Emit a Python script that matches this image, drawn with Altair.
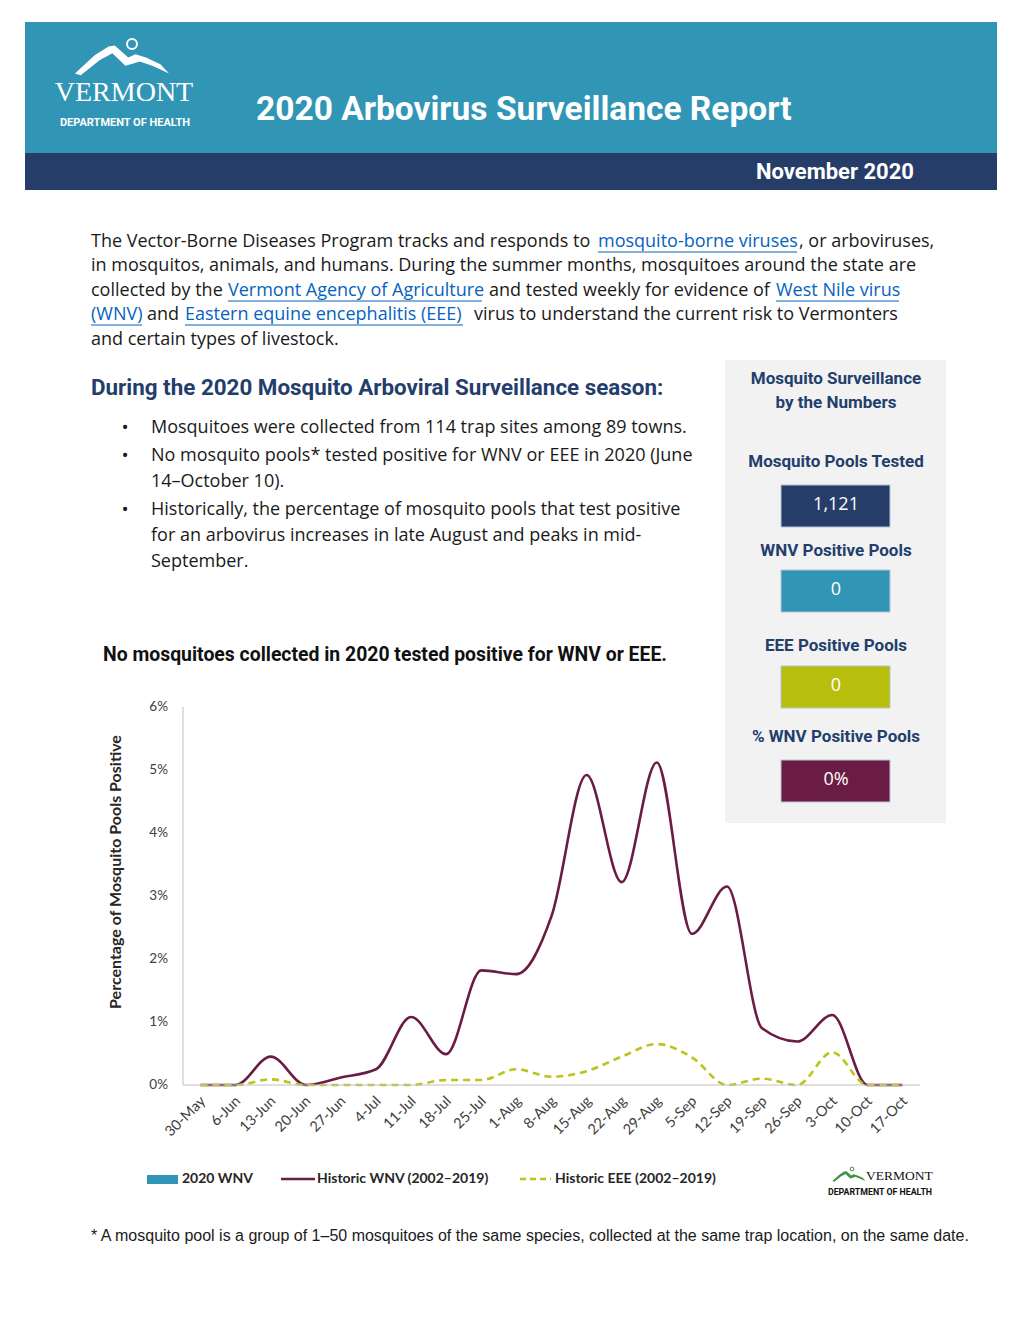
import altair as alt
import pandas as pd

# ---------------- data ----------------
dates = ["30-May", "6-Jun", "13-Jun", "20-Jun", "27-Jun", "4-Jul", "11-Jul", "18-Jul",
         "25-Jul", "1-Aug", "8-Aug", "15-Aug", "22-Aug", "29-Aug", "5-Sep", "12-Sep",
         "19-Sep", "26-Sep", "3-Oct", "10-Oct", "17-Oct"]
wnv_2020 = [0, 0, 0, 0, 0, 0, 0, 0, 0, 0, 0, 0, 0, 0, 0, 0, 0, 0, 0, 0, 0]
historic_wnv = [0, 0, 0.45, 0, 0.12, 0.25, 1.08, 0.49, 1.82, 1.76, 2.68, 4.92, 3.22,
                5.12, 2.40, 3.15, 0.90, 0.69, 1.11, 0, 0]
historic_eee = [0, 0, 0.09, 0, 0, 0, 0, 0.08, 0.08, 0.25, 0.13, 0.22, 0.45, 0.65,
                0.44, 0, 0.10, 0, 0.52, 0, 0]
y_ticks = [0, 1, 2, 3, 4, 5, 6]
y_tick_labels = ["0%", "1%", "2%", "3%", "4%", "5%", "6%"]

panel_labels = ["Mosquito Pools Tested", "WNV Positive Pools", "EEE Positive Pools",
                "% WNV Positive Pools"]
panel_values = ["1,121", "0", "0", "0%"]

# ---------------- layout helpers ----------------
W, H = 1000, 1280
M = 8


def px(v):
    return v - M


COND = "Roboto, 'Liberation Sans', sans-serif"
BODY = "'Open Sans', 'Noto Sans', sans-serif"
SERIF = "'Liberation Serif', 'DejaVu Serif', serif"
CHART = "Lato, 'Open Sans', sans-serif"

NAVY = "#263d69"
NAVY_T = "#233e6c"
TEAL = "#3195b5"
YELLOW = "#b7bf0c"
MAROON = "#6b1c44"
EEE_C = "#bcc41c"
LINK = "#0563c1"
INK = "#1a1a1a"
WHITE = "#ffffff"
AXIS_C = "#bfbfbf"
LABEL_C = "#404040"

dummy = pd.DataFrame({"k": [0]})


def text_layer(rows, font, weight="normal", align="left", angle=0):
    df = pd.DataFrame(rows, columns=["text", "x", "y", "size", "color"])
    df["x"] = df["x"] - M
    df["y"] = df["y"] - M
    mk = dict(font=font, fontWeight=weight, align=align, baseline="middle")
    if angle:
        mk["angle"] = angle
    return alt.Chart(df).mark_text(**mk).encode(
        x=alt.X("x:Q", scale=None, axis=None),
        y=alt.Y("y:Q", scale=None, axis=None),
        text="text:N",
        size=alt.Size("size:Q", scale=None, legend=None),
        color=alt.Color("color:N", scale=None, legend=None),
    )


def rect_layer(rows, stroke=None):
    df = pd.DataFrame(rows, columns=["x", "x2", "y", "y2", "fill"])
    for c in ["x", "x2", "y", "y2"]:
        df[c] = df[c] - M
    mk = {}
    if stroke:
        mk = dict(stroke=stroke, strokeWidth=1)
    return alt.Chart(df).mark_rect(**mk).encode(
        x=alt.X("x:Q", scale=None, axis=None), x2="x2:Q",
        y=alt.Y("y:Q", scale=None, axis=None), y2="y2:Q",
        color=alt.Color("fill:N", scale=None, legend=None),
    )


def rule_layer(rows, width=1.0, dash=None):
    df = pd.DataFrame(rows, columns=["x", "x2", "y", "y2", "color"])
    for c in ["x", "x2", "y", "y2"]:
        df[c] = df[c] - M
    mk = dict(strokeWidth=width)
    if dash:
        mk["strokeDash"] = dash
    return alt.Chart(df).mark_rule(**mk).encode(
        x=alt.X("x:Q", scale=None, axis=None), x2="x2:Q",
        y=alt.Y("y:Q", scale=None, axis=None), y2="y2:Q",
        color=alt.Color("color:N", scale=None, legend=None),
    )


# ---------------- backgrounds ----------------
backgrounds = rect_layer([
    (25, 997, 22, 153, TEAL),
    (25, 997, 153, 190, NAVY),
    (725, 946, 360, 823, "#f2f2f2"),
])
boxes = rect_layer([
    (781, 890, 485, 527, NAVY),
    (781, 890, 570, 612, TEAL),
    (781, 890, 666, 708, YELLOW),
    (781, 890, 760, 802, MAROON),
], stroke="#b8c4d6")

# ---------------- logos ----------------
MOUNTAIN = ("M -0.98 0.30 L -0.57 -0.08 L -0.28 -0.26 L -0.15 -0.28 L 0.13 -0.03 "
            "L 0.28 -0.10 L 0.5 -0.03 L 0.8 0.11 L 0.98 0.30 L 0.63 0.14 L 0.37 0.05 "
            "L 0.22 0.10 L 0.07 0.14 L -0.2 -0.12 L -0.46 0.02 L -0.86 0.34 Z")
logo_head = alt.Chart(dummy).mark_point(shape=MOUNTAIN, filled=True, size=9216, opacity=1,
                                        color=WHITE).encode(
    x=alt.value(px(122)), y=alt.value(px(59)))
ring_head = alt.Chart(dummy).mark_point(shape="circle", filled=False, size=100, strokeWidth=2,
                                        opacity=1, color=WHITE).encode(
    x=alt.value(px(132)), y=alt.value(px(44)))
logo_foot = alt.Chart(dummy).mark_point(shape=MOUNTAIN, filled=True, size=1156, opacity=1,
                                        color="#3f9142").encode(
    x=alt.value(px(849)), y=alt.value(px(1176)))
ring_foot = alt.Chart(dummy).mark_point(shape="circle", filled=False, size=14, strokeWidth=1,
                                        opacity=1, color="#3f9142").encode(
    x=alt.value(px(852)), y=alt.value(px(1169)))

# ---------------- texts ----------------
cond_left = text_layer([
    ("2020 Arbovirus Surveillance Report", 256, 110, 33.5, WHITE),
    ("During the 2020 Mosquito Arboviral Surveillance season:", 91, 388, 22.4, NAVY_T),
    ("No mosquitoes collected in 2020 tested positive for WNV or EEE.", 103, 655, 19.4, "#111111"),
], COND, "bold", "left")
cond_right = text_layer([
    ("November 2020", 914, 172, 22, WHITE),
], COND, "bold", "right")
cond_center = text_layer([
    ("DEPARTMENT OF HEALTH", 125, 123, 11, WHITE),
    ("Mosquito Surveillance", 836, 379, 17, NAVY_T),
    ("by the Numbers", 836, 403, 17, NAVY_T),
    (panel_labels[0], 836, 462, 17, NAVY_T),
    (panel_labels[1], 836, 551, 17, NAVY_T),
    (panel_labels[2], 836, 646, 17, NAVY_T),
    (panel_labels[3], 836, 737, 17, NAVY_T),
    ("DEPARTMENT OF HEALTH", 880, 1192, 8.8, "#111111"),
], COND, "bold", "center")
serif_center = text_layer([
    ("VERMONT", 124, 93, 28, WHITE),
], SERIF, "normal", "center")
serif_left = text_layer([
    ("VERMONT", 866, 1176, 13.5, "#111111"),
], SERIF, "normal", "left")

FS = 18
body_left = text_layer([
    ("The Vector-Borne Diseases Program tracks and responds to", 91, 242, FS, INK),
    ("mosquito-borne viruses", 598, 242, FS, LINK),
    (", or arboviruses,", 799, 242, FS, INK),
    ("in mosquitos, animals, and humans. During the summer months, mosquitoes around the state are",
     91, 266, FS, INK),
    ("collected by the", 91, 291, FS, INK),
    ("Vermont Agency of Agriculture", 228, 291, FS, LINK),
    ("and tested weekly for evidence of", 489, 291, FS, INK),
    ("West Nile virus", 776, 291, FS, LINK),
    ("(WNV)", 91, 315, FS, LINK),
    ("and", 147, 315, FS, INK),
    ("Eastern equine encephalitis (EEE)", 185, 315, FS, LINK),
    ("virus to understand the current risk to Vermonters", 474, 315, FS, INK),
    ("and certain types of livestock.", 91, 340, FS, INK),
    ("Mosquitoes were collected from 114 trap sites among 89 towns.", 151, 428, FS, INK),
    ("No mosquito pools* tested positive for WNV or EEE in 2020 (June", 151, 456, FS, INK),
    ("14\u2013October 10).", 151, 482, FS, INK),
    ("Historically, the percentage of mosquito pools that test positive", 151, 510, FS, INK),
    ("for an arbovirus increases in late August and peaks in mid-", 151, 536, FS, INK),
    ("September.", 151, 562, FS, INK),
], BODY, "normal", "left")
body_center = text_layer([
    ("\u2022", 125, 428, 19, INK),
    ("\u2022", 125, 456, 19, INK),
    ("\u2022", 125, 510, 19, INK),
    (panel_values[0], 836, 505, 18, WHITE),
    (panel_values[1], 836, 590, 18, WHITE),
    (panel_values[2], 836, 686, 18, WHITE),
    (panel_values[3], 836, 780, 18, WHITE),
], BODY, "normal", "center")
footnote = text_layer([
    ("* A mosquito pool is a group of 1\u201350 mosquitoes of the same species, collected at the "
     "same trap location, on the same date.", 91, 1236, 16, INK),
], "'Liberation Sans', sans-serif", "normal", "left")

underlines = rule_layer([
    (598, 797, 252, 252, LINK),
    (228, 482, 301, 301, LINK),
    (776, 899, 301, 301, LINK),
    (91, 142, 325, 325, LINK),
    (185, 463, 325, 325, LINK),
], width=1)

# ---------------- chart ----------------
x_scale = alt.Scale(type="point", domain=dates, range=[px(183), px(920)], padding=0.5)
y_scale = alt.Scale(domain=[0, 6], range=[px(1085), px(707)], nice=False, zero=True)

bars = alt.Chart(pd.DataFrame({"date": dates, "v": wnv_2020})).mark_bar(
    size=20, color=TEAL).encode(
    x=alt.X("date:N", scale=x_scale, axis=None),
    y=alt.Y("v:Q", scale=y_scale, axis=None),
)
wnv_line = alt.Chart(pd.DataFrame({"date": dates, "v": historic_wnv})).mark_line(
    color=MAROON, strokeWidth=2.6, interpolate="monotone").encode(
    x=alt.X("date:N", scale=x_scale, axis=None),
    y=alt.Y("v:Q", scale=y_scale, axis=None),
)
eee_line = alt.Chart(pd.DataFrame({"date": dates, "v": historic_eee})).mark_line(
    color=EEE_C, strokeWidth=2.6, strokeDash=[7, 5], interpolate="monotone").encode(
    x=alt.X("date:N", scale=x_scale, axis=None),
    y=alt.Y("v:Q", scale=y_scale, axis=None),
)
x_labels = alt.Chart(pd.DataFrame({"date": dates})).mark_text(
    font=CHART, fontSize=14.5, color=LABEL_C, align="right", baseline="middle",
    angle=315, dx=4).encode(
    x=alt.X("date:N", scale=x_scale, axis=None),
    y=alt.value(px(1102)),
    text="date:N",
)
y_labels = alt.Chart(pd.DataFrame({"t": y_ticks, "lab": y_tick_labels})).mark_text(
    font=CHART, fontSize=13.5, color=LABEL_C, align="right", baseline="middle").encode(
    y=alt.Y("t:Q", scale=y_scale, axis=None),
    x=alt.value(px(168)),
    text="lab:N",
)
data_layer = alt.layer(bars, wnv_line, eee_line, x_labels, y_labels)

axis_lines = rule_layer([
    (183, 920, 1085, 1085, AXIS_C),
    (183, 183, 707, 1085, AXIS_C),
], width=1)

y_title = text_layer([
    ("Percentage of Mosquito Pools Positive", 116, 872, 16, "#262626"),
], CHART, "bold", "center", angle=270)

# ---------------- legend ----------------
legend_box = rect_layer([(147, 178, 1175, 1184, TEAL)])
legend_wnv = rule_layer([(281, 315, 1179, 1179, MAROON)], width=2.6)
legend_eee = rule_layer([(520, 551, 1179, 1179, EEE_C)], width=2.6, dash=[6, 4])
legend_text = text_layer([
    ("2020 WNV", 182, 1179, 14, "#262626"),
    ("Historic WNV (2002\u20132019)", 317, 1179, 14, "#262626"),
    ("Historic EEE (2002\u20132019)", 555, 1179, 14, "#262626"),
], CHART, "bold", "left")

chart = alt.layer(
    backgrounds, boxes, logo_head, ring_head, logo_foot, ring_foot,
    cond_left, cond_right, cond_center, serif_center, serif_left,
    body_left, body_center, footnote, underlines,
    data_layer, axis_lines, y_title, legend_box, legend_wnv, legend_eee, legend_text,
).resolve_scale(
    x="independent", y="independent"
).properties(
    width=W, height=H, padding=0, background="white"
).configure_view(stroke=None)

chart.save("out.html", embed_options={"renderer": "svg", "actions": False})
